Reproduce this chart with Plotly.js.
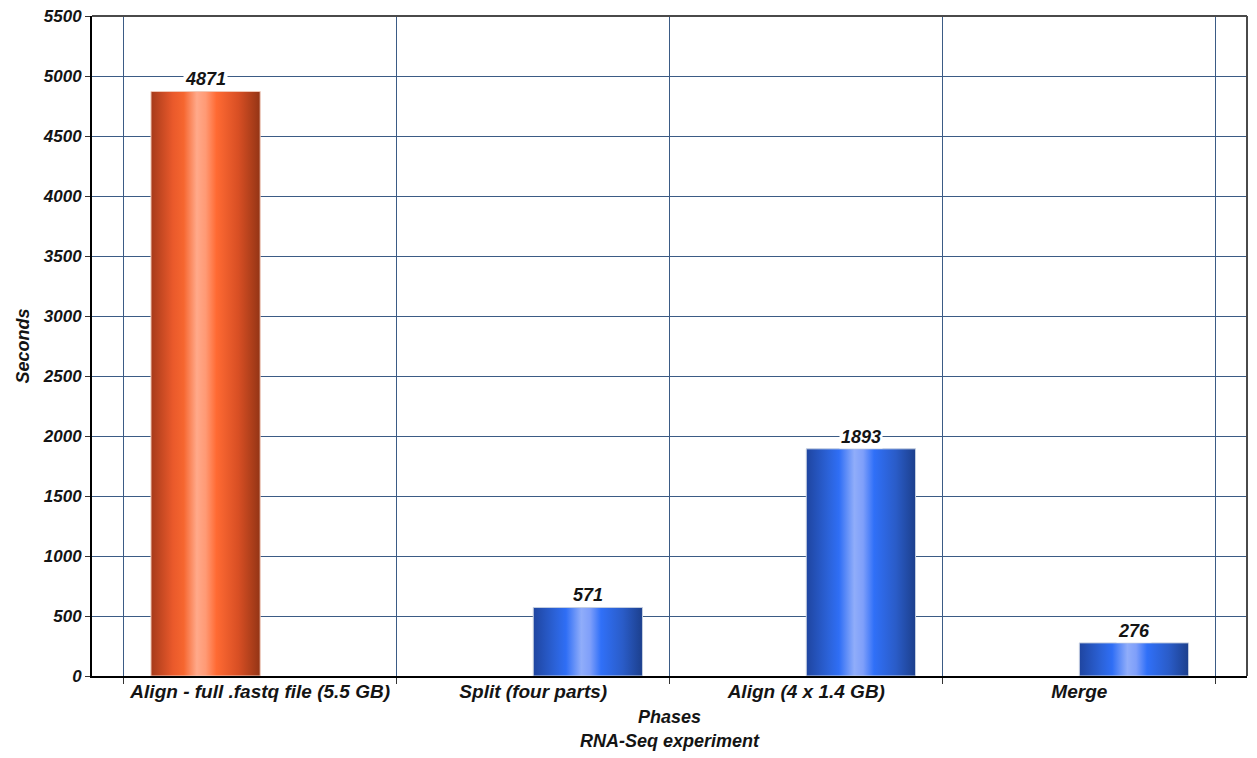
<!DOCTYPE html>
<html>
<head>
<meta charset="utf-8">
<script src="https://cdn.plot.ly/plotly-3.0.1.min.js"></script>
<style>
  html, body { margin: 0; padding: 0; background: #ffffff; }
  #chart { width: 1257px; height: 758px; }
</style>
</head>
<body>
<div id="chart"></div>
<script>
// Phases of the RNA-Seq experiment and their run times (seconds)
const phases = [
  "Align - full .fastq file (5.5 GB)",
  "Split (four parts)",
  "Align (4 x 1.4 GB)",
  "Merge"
];
// Single-run alignment of the whole file
const fullRunSeconds = [4871, null, null, null];
// Split / parallel alignment / merge pipeline
const splitRunSeconds = [null, 571, 1893, 276];

const yTickValues = [0, 500, 1000, 1500, 2000, 2500, 3000, 3500, 4000, 4500, 5000, 5500];
const yTickLabels = yTickValues.map(String);

const FONT = "Liberation Sans, Arial, sans-serif";
const INK = "#141414";
const GRID = "#3b5b85";

// Grouped bars: each group takes 0.8 of a category, each bar half of that
const BAR_WIDTH = 0.4;

const traces = [
  {
    type: "bar",
    name: "Full file",
    x: phases,
    y: fullRunSeconds,
    marker: { color: "#f26030", line: { color: "#f0c8b8", width: 1 } },
    hoverinfo: "x+y"
  },
  {
    type: "bar",
    name: "Split",
    x: phases,
    y: splitRunSeconds,
    marker: { color: "#2f6cf0", line: { color: "#c4cee0", width: 1 } },
    hoverinfo: "x+y"
  }
];

// Value labels with a white box sitting on each bar top
const annotations = [];
[fullRunSeconds, splitRunSeconds].forEach((series, s) => {
  const offset = s === 0 ? -BAR_WIDTH / 2 : BAR_WIDTH / 2;
  series.forEach((v, i) => {
    if (v === null) return;
    annotations.push({
      xref: "x", yref: "y",
      x: i + offset, y: v,
      text: String(v),
      showarrow: false,
      xanchor: "center", yanchor: "bottom",
      bgcolor: "#ffffff",
      borderpad: 1,
      font: { family: FONT, size: 18, color: INK, weight: "bold", style: "italic" }
    });
  });
});

const layout = {
  width: 1257,
  height: 758,
  margin: { l: 92, r: 10, t: 16, b: 82 },
  paper_bgcolor: "#ffffff",
  plot_bgcolor: "#ffffff",
  showlegend: false,
  barmode: "group",
  bargap: 0.2,
  bargroupgap: 0,
  font: { family: FONT, color: INK },
  xaxis: {
    type: "category",
    range: [-0.616, 3.614],
    tickson: "boundaries",
    ticks: "outside",
    ticklen: 6,
    tickwidth: 1,
    tickcolor: "#333333",
    ticklabelstandoff: -3,
    showgrid: true,
    gridcolor: GRID,
    gridwidth: 1,
    showline: true,
    linecolor: "#000000",
    linewidth: 2,
    tickfont: { family: FONT, size: 19, color: INK, weight: "bold", style: "italic" },
    title: {
      text: "Phases<br>RNA-Seq experiment",
      standoff: 10,
      font: { family: FONT, size: 18, color: INK, weight: "bold", style: "italic" }
    },
    fixedrange: true
  },
  yaxis: {
    range: [0, 5500],
    tickmode: "array",
    tickvals: yTickValues,
    ticktext: yTickLabels,
    ticks: "outside",
    ticklen: 5,
    tickwidth: 1,
    tickcolor: "#333333",
    showgrid: true,
    gridcolor: GRID,
    gridwidth: 1,
    zeroline: false,
    showline: true,
    linecolor: "#000000",
    linewidth: 2,
    tickfont: { family: FONT, size: 17, color: INK, weight: "bold", style: "italic" },
    title: {
      text: "Seconds",
      standoff: 8,
      font: { family: FONT, size: 18, color: INK, weight: "bold", style: "italic" }
    },
    fixedrange: true
  },
  shapes: [
    { type: "line", xref: "paper", yref: "paper", x0: 0, x1: 1, y0: 1, y1: 1,
      line: { color: "#4a4a4a", width: 2 } },
    { type: "line", xref: "paper", yref: "paper", x0: 1, x1: 1, y0: 0, y1: 1,
      line: { color: "#4a4a4a", width: 2 } }
  ],
  annotations: annotations
};

// Cylindrical shading for the bars
const gradients = {
  shadeOrange: [
    [0, "#a63a1a"], [0.2, "#e9592b"], [0.3, "#f6662f"], [0.42, "#ffa98a"],
    [0.5, "#ff9a75"], [0.6, "#ff6a33"], [0.8, "#d84f24"], [1, "#933415"]
  ],
  shadeBlue: [
    [0, "#1f45a0"], [0.2, "#2b62d8"], [0.3, "#2f6ef5"], [0.44, "#90adfa"],
    [0.52, "#7f9ffa"], [0.62, "#3070f8"], [0.82, "#2a5cc8"], [1, "#1c3f8c"]
  ]
};

function applyShading(gd) {
  const svg = gd.querySelector(".main-svg");
  if (!svg) return;
  const ns = "http://www.w3.org/2000/svg";
  let defs = svg.querySelector("defs");
  if (!defs) { defs = document.createElementNS(ns, "defs"); svg.insertBefore(defs, svg.firstChild); }
  Object.keys(gradients).forEach(id => {
    if (svg.querySelector("#" + id)) return;
    const g = document.createElementNS(ns, "linearGradient");
    g.setAttribute("id", id);
    g.setAttribute("x1", "0"); g.setAttribute("y1", "0");
    g.setAttribute("x2", "1"); g.setAttribute("y2", "0");
    gradients[id].forEach(([off, col]) => {
      const st = document.createElementNS(ns, "stop");
      st.setAttribute("offset", off);
      st.setAttribute("stop-color", col);
      g.appendChild(st);
    });
    defs.appendChild(g);
  });
  const ids = ["shadeOrange", "shadeBlue"];
  gd.querySelectorAll(".barlayer .trace").forEach((tr, i) => {
    tr.querySelectorAll(".point path").forEach(p => {
      p.style.fill = "url(#" + ids[i] + ")";
    });
  });
}

const gd = document.getElementById("chart");
Plotly.newPlot(gd, traces, layout, { displayModeBar: false, staticPlot: true }).then(() => {
  applyShading(gd);
  gd.on("plotly_afterplot", () => applyShading(gd));
});
</script>
</body>
</html>
